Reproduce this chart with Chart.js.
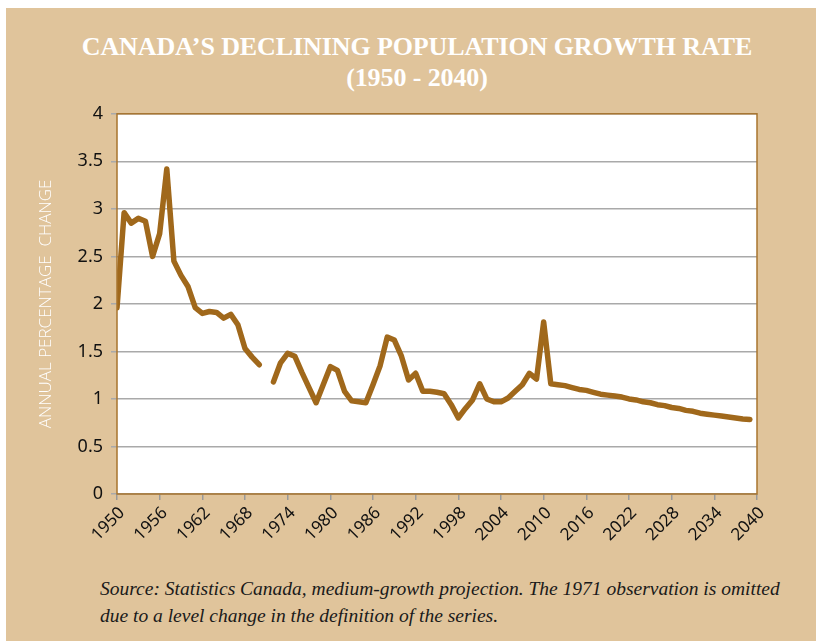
<!DOCTYPE html>
<html>
<head>
<meta charset="utf-8">
<script src="https://cdn.jsdelivr.net/npm/chart.js@4/dist/chart.umd.min.js"></script>
<style>
  html, body { margin: 0; padding: 0; background: #fff; }
  #panel {
    position: absolute; left: 6px; top: 8px; width: 810px; height: 633px;
    background: #e0c49b;
  }
  #title {
    position: absolute; left: 0; top: 31px; width: 834px; text-align: center;
    font-family: "Liberation Serif", serif; font-size: 26px; font-weight: bold; line-height: 31px;
    color: #fff; letter-spacing: -0.1px;
  }
  #chartBox { position: absolute; left: 0; top: 95px; width: 816px; height: 470px; }
  #note {
    position: absolute; left: 100px; top: 575px; width: 716px;
    font-family: "Liberation Serif", serif; font-style: italic; font-size: 19.5px;
    line-height: 27px; color: #1a1a1a; white-space: nowrap;
  }
</style>
</head>
<body>
<div id="panel"></div>
<div id="title">CANADA’S DECLINING POPULATION GROWTH RATE<br>(1950 - 2040)</div>
<div id="chartBox"><canvas id="growthChart"></canvas></div>
<div id="note">Source: Statistics Canada, medium-growth projection. The 1971 observation is omitted<br>due to a level change in the definition of the series.</div>
<script>
// annual growth rate, %, 1971 left out (level change)
const years = [];
for (let y = 1950; y <= 2039; y += 1) years.push(y);

const rates = [
  1.96, 2.96, 2.85, 2.90, 2.87, 2.50, 2.74, 3.42, 2.45, 2.30, // 1950-59
  2.18, 1.96, 1.90, 1.92, 1.91, 1.85, 1.89, 1.78, 1.53, 1.44, // 1960-69
  1.36, null, 1.18, 1.38, 1.48, 1.45, 1.28, 1.12, 0.96, 1.15, // 1970-79
  1.34, 1.30, 1.08, 0.98, 0.97, 0.96, 1.15, 1.35, 1.65, 1.62, // 1980-89
  1.45, 1.20, 1.27, 1.08, 1.08, 1.07, 1.055, 0.94, 0.80, 0.90, // 1990-99
  0.99, 1.16, 1.00, 0.97, 0.97, 1.01, 1.08, 1.15, 1.27, 1.21, // 2000-09
  1.81, 1.16, 1.15, 1.14, 1.12, 1.10, 1.09, 1.07, 1.05, 1.04, // 2010-19
  1.03, 1.02, 1.00, 0.99, 0.97, 0.96, 0.94, 0.93, 0.91, 0.90, // 2020-29
  0.88, 0.87, 0.85, 0.84, 0.83, 0.82, 0.81, 0.80, 0.79, 0.785 // 2030-39
];

const yTicks = [0, 0.5, 1, 1.5, 2, 2.5, 3, 3.5, 4];

const plotBorder = {
  id: 'plotBorder',
  afterDatasetsDraw(chart) {
    const { ctx, chartArea: a } = chart;
    ctx.save();
    ctx.strokeStyle = '#a8742e';
    ctx.lineWidth = 1.5;
    ctx.strokeRect(a.left, a.top, a.right - a.left, a.bottom - a.top);
    ctx.restore();
  }
};

const whiteArea = {
  id: 'whiteArea',
  beforeDraw(chart) {
    const { ctx, chartArea: a } = chart;
    ctx.save();
    ctx.fillStyle = '#fff';
    ctx.fillRect(a.left, a.top, a.right - a.left, a.bottom - a.top);
    ctx.restore();
  }
};

new Chart(document.getElementById('growthChart'), {
  type: 'line',
  data: {
    datasets: [{
      label: 'Growth rate',
      data: years.map((y, i) => ({ x: y, y: rates[i] })),
      borderColor: '#a0681b',
      borderWidth: 5.5,
      pointRadius: 0,
      borderCapStyle: 'round',
      borderJoinStyle: 'round',
      spanGaps: false,
      tension: 0,
    }],
  },
  options: {
    responsive: true,
    maintainAspectRatio: false,
    animation: false,
    layout: { padding: { left: 0, right: 59, top: 15, bottom: 0 } },
    plugins: { legend: { display: false }, tooltip: { enabled: false } },
    scales: {
      x: {
        type: 'linear',
        min: 1950,
        max: 2040,
        afterFit(scale) { scale.height = 71; },
        ticks: {
          stepSize: 6,
          maxRotation: 45,
          minRotation: 45,
          padding: 3,
          labelOffset: 5,
          color: '#111',
          font: { family: 'Noto Sans', size: 17 },
          callback: v => String(v),
        },
        grid: { drawOnChartArea: false, drawTicks: true, tickLength: 6, color: '#999', lineWidth: 1.5 },
        border: { display: false },
      },
      y: {
        min: 0,
        max: 4,
        afterFit(scale) { scale.width = 117; },
        afterBuildTicks(scale) { scale.ticks = yTicks.map(v => ({ value: v })); },
        ticks: {
          padding: 8,
          color: '#111',
          font: { family: 'Noto Sans', size: 18 },
          callback: v => String(v),
        },
        grid: { color: '#a9a9a9', lineWidth: 1.5, tickLength: 6 },
        border: { display: false },
        title: {
          display: true,
          text: 'ANNUAL PERCENTAGE  CHANGE',
          color: '#fff',
          font: { family: 'Open Sans', size: 17, weight: 300 },
          padding: { top: 36, bottom: 0 },
        },
      },
    },
  },
  plugins: [whiteArea, plotBorder],
});
</script>
</body>
</html>
